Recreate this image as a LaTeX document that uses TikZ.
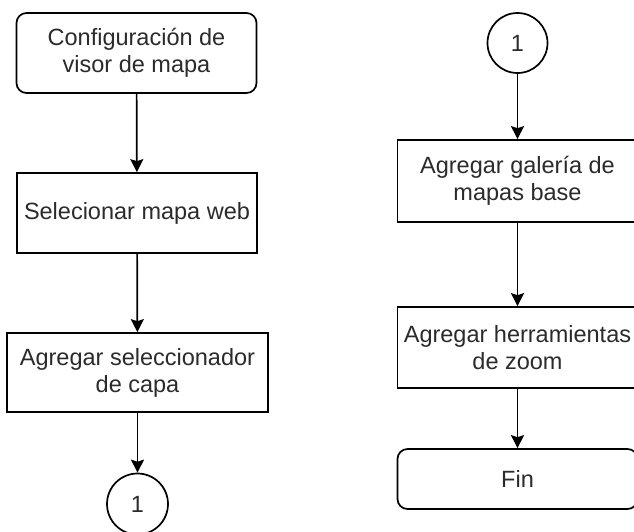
\documentclass[tikz,border=0pt]{standalone}
\usepackage{fontspec}
\setmainfont{Liberation Sans}
\usetikzlibrary{arrows.meta}
\definecolor{txt}{HTML}{2B2B2B}
\tikzset{
  base/.style={draw=black, line width=1.7pt, fill=white, text=txt, align=center,
    font=\fontsize{23.5pt}{27pt}\selectfont, inner sep=1pt},
  procbox/.style={base, rectangle, minimum width=#1, minimum height=80pt},
  procbox/.default=240pt,
  termbox/.style={base, rectangle, rounded corners=10pt, minimum width=240pt, minimum height=#1},
  conn/.style={base, circle, minimum size=61pt, inner sep=0pt},
  flow/.style={draw=black, line width=1.7pt, -{Stealth[length=13pt,width=13pt,inset=2pt]}}
}
\begin{document}
\begin{tikzpicture}[x=1pt,y=-1pt]
\useasboundingbox (0,0) rectangle (634,531);
\node[termbox=80pt] (c1) at (136.5,53) {Configuración de\\visor de mapa};
\node[procbox] (b2) at (137,213) {Selecionar mapa web};
\node[procbox=261pt, minimum height=79pt] (b3) at (137.5,372.5) {Agregar seleccionador\\de capa};
\node[conn] (cL) at (137.5,504) {1};
\node[conn, minimum size=60pt] (cR) at (517.5,43) {1};
\node[procbox, minimum height=82pt] (r1) at (517.5,181) {Agregar galería de\\mapas base};
\node[procbox, minimum height=81pt] (r2) at (517.5,347.5) {Agregar herramientas\\de zoom};
\node[termbox=60pt] (fin) at (517.5,479) {Fin};
\draw[flow] (c1) -- (b2);
\draw[flow] (b2) -- (b3);
\draw[flow] (b3) -- (cL);
\draw[flow] (cR) -- (r1);
\draw[flow] (r1) -- (r2);
\draw[flow] (r2) -- (fin);
\end{tikzpicture}
\end{document}
